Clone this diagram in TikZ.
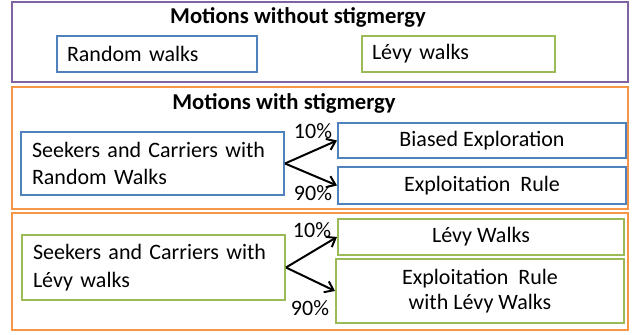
\documentclass[tikz,border=0pt]{standalone}
\usepackage{fontspec}
\setmainfont{Carlito}
\usetikzlibrary{arrows.meta}

\definecolor{purpleframe}{RGB}{128,100,162}
\definecolor{orangeframe}{RGB}{247,150,70}
\definecolor{blueframe}{RGB}{79,129,189}
\definecolor{greenframe}{RGB}{155,187,89}

\tikzset{every picture/.style={line width=0.75pt}}
\tikzset{
	boxtext/.style={font=\fontsize{16.5}{20.5}\selectfont},
	titletext/.style={font=\fontsize{17}{20}\selectfont\bfseries},
	bluebox/.style={draw=blueframe, line width=1.5pt, boxtext, inner sep=0pt},
	greenbox/.style={draw=greenframe, line width=1.5pt, boxtext, inner sep=0pt},
	pct/.style={boxtext, inner sep=0pt},
	branch/.style={line width=1.5pt, -{Straight Barb[length=6pt,width=9pt,line width=1.5pt]}}
}

\begin{document}
\begin{tikzpicture}[x=0.75pt,y=0.75pt,yscale=-1,xscale=1]
	\useasboundingbox (0,0) rectangle (633,335);

	%Frame: without stigmergy
	\draw [draw=purpleframe, line width=1.5pt] (12,2) rectangle (628,82);
	% Text Node
	\node [titletext] (titleA) at (298,17) {Motions without stigmergy};
	% Boxes
	\node [bluebox, minimum height=27pt, anchor=west, text width=135pt, inner xsep=7.5pt, align=left] (randomw) at (56,54) {Random walks};
	\node [greenbox, minimum height=27pt, anchor=west, text width=129.75pt, inner xsep=7.5pt, align=left] (levyw) at (361,54) {Lévy walks};

	%Frame: with stigmergy, random walks
	\draw [draw=orangeframe, line width=1.5pt] (12,87) rectangle (628,209);
	% Text Node
	\node [titletext] (titleB) at (284,103) {Motions with stigmergy};
	% Boxes
	\node [bluebox, minimum height=47.25pt, anchor=west, text width=180.75pt, inner xsep=8.25pt, align=left] (seekA) at (20,163.5) {Seekers and Carriers with\\Random Walks};
	\node [bluebox, minimum width=216pt, minimum height=26.25pt, anchor=west] (biased) at (337,140.5) {Biased Exploration};
	\node [bluebox, minimum width=216pt, minimum height=27.75pt, anchor=west] (exploitA) at (337,185.5) {Exploitation~ Rule};
	% Arrows
	\draw [branch] (seekA.east) -- (biased.west);
	\draw [branch] (seekA.east) -- (exploitA.west);
	\node [pct] (pctA1) at (313,131) {10\%};
	\node [pct] (pctA2) at (313,193) {90\%};

	%Frame: with stigmergy, Levy walks
	\draw [draw=orangeframe, line width=1.5pt] (12,213) rectangle (628,330);
	% Boxes
	\node [greenbox, minimum height=48.75pt, anchor=west, text width=180.75pt, inner xsep=8.25pt, align=left] (seekB) at (21,267.5) {Seekers and Carriers with\\Lévy walks};
	\node [greenbox, minimum width=214.5pt, minimum height=27pt, anchor=west] (levyB) at (337,237) {Lévy Walks};
	\node [greenbox, minimum width=216pt, minimum height=48pt, anchor=west, align=center, font=\fontsize{16.5}{18.5}\selectfont] (exploitB) at (335,291) {Exploitation~ Rule\\with Lévy Walks};
	% Arrows
	\draw [branch] (seekB.east) -- (levyB.west);
	\draw [branch] (seekB.east) -- (exploitB.west);
	\node [pct] (pctB1) at (312,230) {10\%};
	\node [pct] (pctB2) at (310,308) {90\%};
\end{tikzpicture}
\end{document}
